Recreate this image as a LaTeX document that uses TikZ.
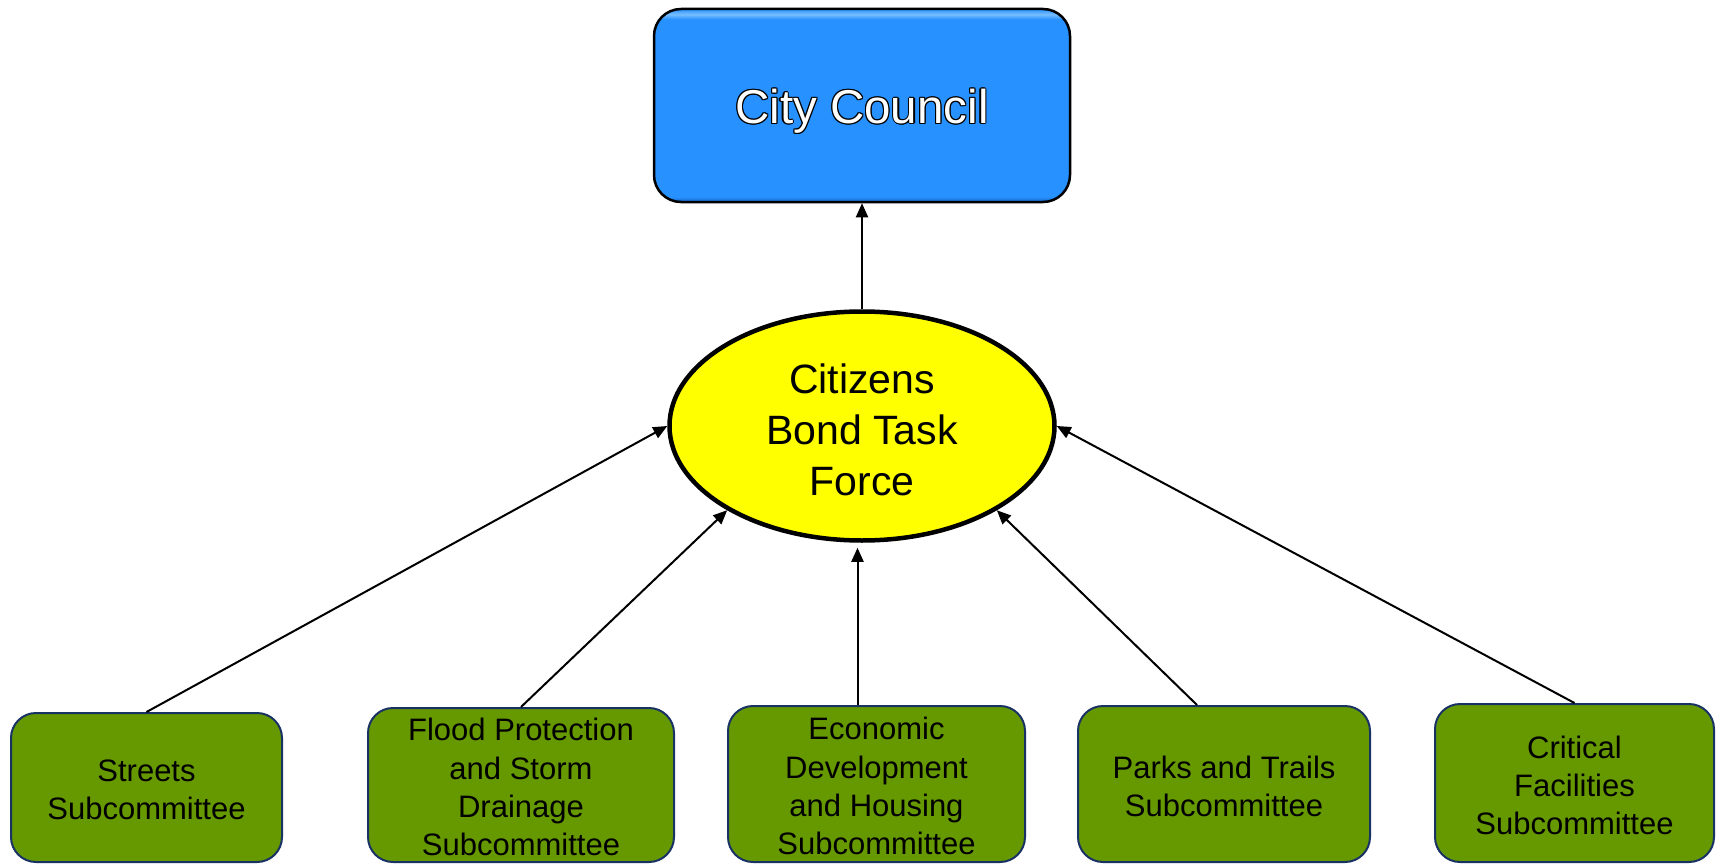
\documentclass[tikz,border=0pt]{standalone}
\usepackage{fontspec}
\setmainfont{Liberation Sans}
\usetikzlibrary{arrows.meta,calc,shapes.geometric}
\definecolor{ccblue}{RGB}{38,145,255}
\definecolor{cclight}{RGB}{120,190,255}
\definecolor{ccdark}{RGB}{20,95,190}
\definecolor{subgreen}{RGB}{102,153,0}
\definecolor{subnavy}{RGB}{25,50,100}
\definecolor{tfyellow}{RGB}{255,255,0}
\pgfdeclareverticalshading{ccshade}{100bp}{color(0bp)=(ccdark); color(25bp)=(ccdark); color(26.3bp)=(ccblue); color(72.3bp)=(ccblue); color(73.6bp)=(cclight); color(75bp)=(ccblue); color(100bp)=(ccblue)}
\newcommand\ctrcopy[3]{\rlap{\hspace*{#1}\raisebox{#2}{\color{black}#3}}}
\newcommand\outlined[1]{\ctrcopy{1.2pt}{0pt}{#1}\ctrcopy{-1.2pt}{0pt}{#1}\ctrcopy{0pt}{1.2pt}{#1}\ctrcopy{0pt}{-1.2pt}{#1}\ctrcopy{.85pt}{.85pt}{#1}\ctrcopy{-.85pt}{.85pt}{#1}\ctrcopy{.85pt}{-.85pt}{#1}\ctrcopy{-.85pt}{-.85pt}{#1}{\color{white}#1}}
\newcommand\lw[2]{\raisebox{-#1}[\height][\depth]{\begin{tabular}{@{}c@{}}#2\end{tabular}}}
\tikzset{
  council/.style={rectangle, rounded corners=27pt, draw=black, line width=2.5pt, shading=ccshade, inner sep=0pt, font=\fontsize{47.5}{56}\selectfont},
  taskforce/.style={ellipse, draw=black, line width=4.5pt, fill=tfyellow, inner sep=0pt, minimum width=385pt, minimum height=229pt, font=\fontsize{41}{51}\selectfont},
  subbox/.style={rectangle, rounded corners=25pt, draw=subnavy, line width=2pt, fill=subgreen, inner sep=0pt, font=\fontsize{31}{38.2}\selectfont},
  arr/.style={line width=2pt, -{Triangle[length=14pt,width=12pt]}}
}
\begin{document}
\begin{tikzpicture}[x=1pt,y=-1pt]
\useasboundingbox (0,0) rectangle (1719,864);
\node[council, minimum width=416pt, minimum height=193pt] (cc) at (862,105.5) {\raisebox{-5.5pt}[\height][\depth]{\outlined{City Council}}};
\node[taskforce] (tf) at (862,426) {\lw{7.8pt}{Citizens\\Bond Task\\Force}};
\node[subbox, minimum width=271pt, minimum height=149pt] (s1) at (146.5,787.5) {\lw{5.6pt}{Streets\\Subcommittee}};
\node[subbox, minimum width=306pt, minimum height=154pt] (s2) at (521,785) {\lw{5.6pt}{Flood Protection\\and Storm\\Drainage\\Subcommittee}};
\node[subbox, minimum width=297pt, minimum height=156pt] (s3) at (876.5,784) {\lw{5.6pt}{Economic\\Development\\and Housing\\Subcommittee}};
\node[subbox, minimum width=292pt, minimum height=156pt] (s4) at (1224,784) {\lw{5.6pt}{Parks and Trails\\Subcommittee}};
\node[subbox, minimum width=279pt, minimum height=158pt] (s5) at (1574.5,783) {\lw{5.6pt}{Critical\\Facilities\\Subcommittee}};
\coordinate (e3) at ($(s3.north)+(-19,0)$);
\coordinate (e4) at ($(s4.north)+(-27,0)$);
\draw[arr] (tf.north) -- (cc.south);
\draw[arr] (s1.north) -- (tf.west);
\draw[arr] (s2.north) -- (tf.212);
\draw[arr, shorten >=5pt] (e3) -- (e3 |- tf.south);
\draw[arr] (e4) -- (tf.328);
\draw[arr] (s5.north) -- (tf.east);
\end{tikzpicture}
\end{document}
